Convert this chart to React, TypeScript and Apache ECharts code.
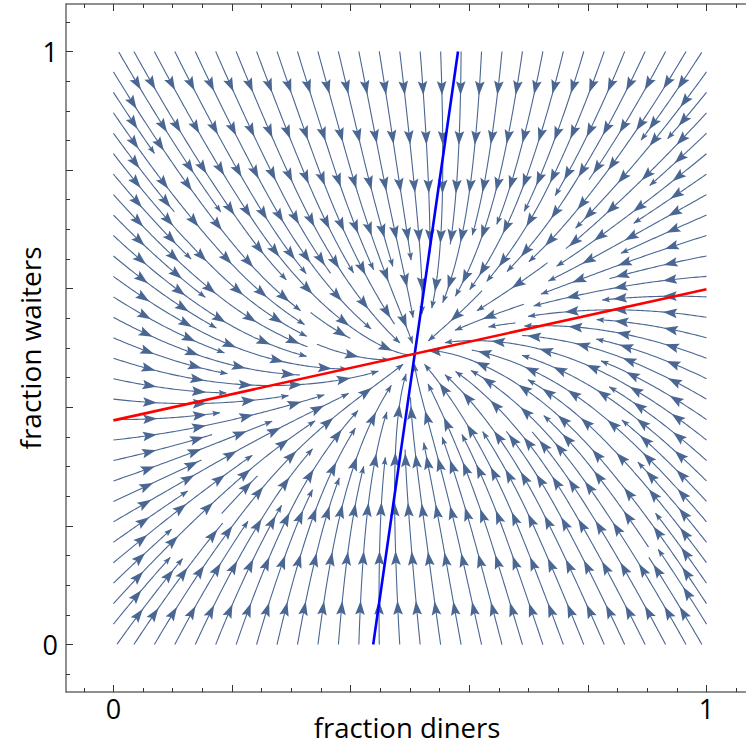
import React, { useEffect, useRef } from "react";
import * as echarts from "echarts";

// ---- data ----
// dx/dt = 0 nullcline (blue), endpoints [x, y]
const X_NULLCLINE: number[][] = [
  [0.438, 0],
  [0.581, 1],
];
// dy/dt = 0 nullcline (red), endpoints [x, y]
const Y_NULLCLINE: number[][] = [
  [0, 0.378],
  [1, 0.599],
];
// relaxation rates of the two fractions toward their nullclines
const RATE_X = 1.0;
const RATE_Y_NEAR = 1.0;
const RATE_Y_FAR = 1.6;
const RATE_RADIUS = 0.35;

const X_RANGE = [-0.08, 1.07];
const Y_RANGE = [-0.08, 1.08];
const MINOR_TICKS = [
  -0.05, 0, 0.05, 0.1, 0.15, 0.2, 0.25, 0.3, 0.35, 0.4, 0.45, 0.5, 0.55, 0.6,
  0.65, 0.7, 0.75, 0.8, 0.85, 0.9, 0.95, 1, 1.05,
];
const MAJOR_TICKS = [0, 0.2, 0.4, 0.6, 0.8, 1];
const TICK_LABELS = [0, 1];
const X_TITLE = "fraction diners";
const Y_TITLE = "fraction waiters";

// stream plot settings
const SEEDS_PER_SIDE = 29;
const INTERIOR_SEEDS = 50;
const STEP = 0.002;
const D_TEST = 0.016;
const D_SEED = 0.02;
const ARROW_START = 0.062;
const ARROW_GAP = 0.083;

const STREAM_COLOR = "#4a6693";
const FONT = "Open Sans";

function buildStreams() {
  const [bx0, by0] = X_NULLCLINE[0];
  const [bx1, by1] = X_NULLCLINE[1];
  const [rx0, ry0] = Y_NULLCLINE[0];
  const [rx1, ry1] = Y_NULLCLINE[1];
  const xb = (y: number) => bx0 + ((bx1 - bx0) * (y - by0)) / (by1 - by0);
  const yr = (x: number) => ry0 + ((ry1 - ry0) * (x - rx0)) / (rx1 - rx0);
  // equilibrium (intersection of the nullclines)
  let ex = 0.5,
    ey = 0.5;
  for (let i = 0; i < 60; i++) {
    ey = yr(ex);
    ex = xb(ey);
  }
  const F = (x: number, y: number) => {
    const d = Math.hypot(x - ex, y - ey);
    const ky = RATE_Y_NEAR + (RATE_Y_FAR - RATE_Y_NEAR) * Math.min(1, d / RATE_RADIUS);
    return [RATE_X * (xb(y) - x), ky * (yr(x) - y)];
  };

  const cell = Math.max(D_TEST, D_SEED);
  const grid = new Map<string, number[][]>();
  const near = (x: number, y: number, id: number, dist: number) => {
    const ci = Math.floor(x / cell),
      cj = Math.floor(y / cell);
    for (let di = -1; di <= 1; di++)
      for (let dj = -1; dj <= 1; dj++) {
        const list = grid.get(ci + di + "," + (cj + dj));
        if (!list) continue;
        for (const p of list) {
          if (p[2] === id) continue;
          const dx = p[0] - x,
            dy = p[1] - y;
          if (dx * dx + dy * dy < dist * dist) return true;
        }
      }
    return false;
  };
  const add = (x: number, y: number, id: number) => {
    const k = Math.floor(x / cell) + "," + Math.floor(y / cell);
    let list = grid.get(k);
    if (!list) {
      list = [];
      grid.set(k, list);
    }
    list.push([x, y, id]);
  };

  const trace = (sx: number, sy: number, sign: number, id: number) => {
    let x = sx,
      y = sy;
    const pts: number[][] = [];
    let term = false;
    let len = 0;
    while (len < 3) {
      const f1 = F(x, y);
      const m1 = Math.hypot(f1[0], f1[1]);
      if (m1 < 1e-9) break;
      const mx = x + (sign * 0.5 * STEP * f1[0]) / m1;
      const my = y + (sign * 0.5 * STEP * f1[1]) / m1;
      const f2 = F(mx, my);
      const m2 = Math.hypot(f2[0], f2[1]);
      if (m2 < 1e-9) break;
      const nx = x + (sign * STEP * f2[0]) / m2;
      const ny = y + (sign * STEP * f2[1]) / m2;
      if (nx < -1e-9 || nx > 1 + 1e-9 || ny < -1e-9 || ny > 1 + 1e-9) break;
      if (sign > 0 && Math.hypot(nx - ex, ny - ey) < 0.004) {
        pts.push([ex, ey]);
        break;
      }
      if (near(nx, ny, id, D_TEST)) {
        term = true;
        break;
      }
      x = nx;
      y = ny;
      len += STEP;
      pts.push([x, y]);
    }
    return { pts, term };
  };

  const lines: { pts: number[][]; term: boolean }[] = [];
  const commit = (pts: number[][], term: boolean) => {
    const id = lines.length;
    for (const p of pts) add(p[0], p[1], id);
    lines.push({ pts, term });
  };

  // seeds on the border of the unit square: coarse pass first, then in-between
  const n = SEEDS_PER_SIDE;
  for (const parity of [0, 1]) {
    for (let k = 1; k < n; k++) {
      if (k % 2 !== parity) continue;
      const t = k / n;
      for (const s of [
        [t, 1],
        [1, t],
        [t, 0],
        [0, t],
      ]) {
        if (near(s[0], s[1], -1, D_TEST)) continue;
        const fw = trace(s[0], s[1], 1, lines.length);
        const pts = [s, ...fw.pts];
        if (pts.length > 3) commit(pts, fw.term);
      }
    }
  }

  // interior seeds fill the gaps that are left
  const m = INTERIOR_SEEDS;
  for (let i = 1; i < m; i++)
    for (let j = 1; j < m; j++) {
      const sx = i / m,
        sy = j / m;
      if (Math.hypot(sx - ex, sy - ey) < 0.025) continue;
      if (near(sx, sy, -1, D_SEED)) continue;
      const id = lines.length;
      const bw = trace(sx, sy, -1, id);
      const fw = trace(sx, sy, 1, id);
      const pts = [...bw.pts.reverse(), [sx, sy], ...fw.pts];
      if (pts.length > 8) commit(pts, fw.term);
    }

  const arrows: number[][] = [];
  for (const l of lines) {
    const p = l.pts;
    const L = (p.length - 1) * STEP;
    let last = -1;
    for (let s = ARROW_START; s < L - 0.014; s += ARROW_GAP) {
      const i = Math.max(1, Math.min(p.length - 2, Math.round(s / STEP)));
      const dx = p[i + 1][0] - p[i - 1][0],
        dy = p[i + 1][1] - p[i - 1][1];
      const mm = Math.hypot(dx, dy) || 1;
      arrows.push([p[i][0], p[i][1], dx / mm, dy / mm, 1]);
      last = s;
    }
    if (l.term && L - last > 0.03) {
      const i = Math.max(2, p.length - 4);
      const dx = p[p.length - 1][0] - p[i - 2][0],
        dy = p[p.length - 1][1] - p[i - 2][1];
      const mm = Math.hypot(dx, dy) || 1;
      arrows.push([p[i][0], p[i][1], dx / mm, dy / mm, 0]);
    }
  }
  const drawn = lines.map((l) => l.pts.filter((_, i) => i % 2 === 0 || i === l.pts.length - 1));
  return { drawn, arrows };
}

function makeXAxis(position: string, major: boolean, withLabels: boolean) {
  return {
    type: "value",
    position,
    min: X_RANGE[0],
    max: X_RANGE[1],
    splitLine: { show: false },
    axisLine: { show: !major, onZero: false, lineStyle: { color: "#6b6b6b", width: 1.5 } },
    axisTick: {
      show: true,
      inside: true,
      length: major ? 7 : 4,
      customValues: major ? MAJOR_TICKS : MINOR_TICKS,
      lineStyle: { color: "#333", width: 1 },
    },
    axisLabel: withLabels
      ? {
          show: true,
          customValues: TICK_LABELS,
          formatter: (v: number) => String(Math.round(v)),
          fontSize: 27,
          color: "#000",
          fontFamily: FONT,
          margin: 3,
        }
      : { show: false },
    name: withLabels ? X_TITLE : "",
    nameLocation: "middle",
    nameGap: 21,
    nameMoveOverlap: false,
    nameTextStyle: { fontSize: 27.5, color: "#000", fontFamily: FONT },
  };
}

function makeYAxis(position: string, major: boolean, withLabels: boolean) {
  return {
    type: "value",
    position,
    min: Y_RANGE[0],
    max: Y_RANGE[1],
    splitLine: { show: false },
    axisLine: { show: !major, onZero: false, lineStyle: { color: "#6b6b6b", width: 1.5 } },
    axisTick: {
      show: true,
      inside: true,
      length: major ? 7 : 4,
      customValues: major ? MAJOR_TICKS : MINOR_TICKS,
      lineStyle: { color: "#333", width: 1 },
    },
    axisLabel: withLabels
      ? {
          show: true,
          customValues: TICK_LABELS,
          formatter: (v: number) => String(Math.round(v)),
          fontSize: 27,
          color: "#000",
          fontFamily: FONT,
          margin: 8,
        }
      : { show: false },
    name: withLabels ? Y_TITLE : "",
    nameLocation: "middle",
    nameGap: 22,
    nameRotate: 90,
    nameMoveOverlap: false,
    nameTextStyle: { fontSize: 28, color: "#000", fontFamily: FONT },
  };
}

export default function App() {
  const ref = useRef<HTMLDivElement>(null);
  useEffect(() => {
    if (!ref.current) return;
    const chart = echarts.init(ref.current, null, { renderer: "svg" });
    const { drawn, arrows } = buildStreams();
    chart.setOption({
      animation: false,
      backgroundColor: "#ffffff",
      grid: {
        left: 66,
        top: 4,
        width: 682,
        height: 688,
        containLabel: false,
        outerBoundsMode: "none",
      },
      xAxis: [
        makeXAxis("bottom", false, false),
        makeXAxis("bottom", true, true),
        makeXAxis("top", false, false),
        makeXAxis("top", true, false),
      ],
      yAxis: [
        makeYAxis("left", false, false),
        makeYAxis("left", true, true),
      ],
      series: [
        {
          type: "custom",
          name: "streams",
          coordinateSystem: "cartesian2d",
          silent: true,
          progressive: 0,
          data: drawn.map((l, i) => [l[0][0], l[0][1], i]),
          renderItem: (params: any, api: any) => {
            const line = drawn[api.value(2)];
            const points = line.map((p) => api.coord(p));
            return {
              type: "polyline",
              shape: { points },
              style: { stroke: STREAM_COLOR, lineWidth: 1.1, fill: null },
              silent: true,
            };
          },
        },
        {
          type: "custom",
          name: "arrows",
          coordinateSystem: "cartesian2d",
          silent: true,
          progressive: 0,
          data: arrows,
          renderItem: (params: any, api: any) => {
            const x = api.value(0),
              y = api.value(1),
              dx = api.value(2),
              dy = api.value(3),
              big = api.value(4);
            const c = api.coord([x, y]);
            const c2 = api.coord([x + dx * 0.01, y + dy * 0.01]);
            let ux = c2[0] - c[0],
              uy = c2[1] - c[1];
            const m = Math.hypot(ux, uy) || 1;
            ux /= m;
            uy /= m;
            const nx = -uy,
              ny = ux;
            const L = big ? 14 : 8;
            const W = big ? 4.8 : 2.9;
            const notch = big ? 2.5 : 1.4;
            const tip = [c[0] + (ux * L) / 2, c[1] + (uy * L) / 2];
            const back = [c[0] - (ux * L) / 2, c[1] - (uy * L) / 2];
            const points = [
              tip,
              [back[0] + nx * W, back[1] + ny * W],
              [back[0] + ux * notch, back[1] + uy * notch],
              [back[0] - nx * W, back[1] - ny * W],
            ];
            return {
              type: "polygon",
              shape: { points },
              style: { fill: STREAM_COLOR, stroke: null },
              silent: true,
            };
          },
        },
        {
          type: "line",
          name: "dx/dt = 0",
          data: X_NULLCLINE,
          showSymbol: false,
          symbol: "none",
          lineStyle: { color: "#0000ff", width: 2.6 },
          z: 5,
        },
        {
          type: "line",
          name: "dy/dt = 0",
          data: Y_NULLCLINE,
          showSymbol: false,
          symbol: "none",
          lineStyle: { color: "#ff0000", width: 2.6 },
          z: 5,
        },
      ],
    });
    return () => chart.dispose();
  }, []);
  return (
    <div
      ref={ref}
      style={{ position: "fixed", left: 0, top: 0, width: 746, height: 749, background: "#fff" }}
    />
  );
}
